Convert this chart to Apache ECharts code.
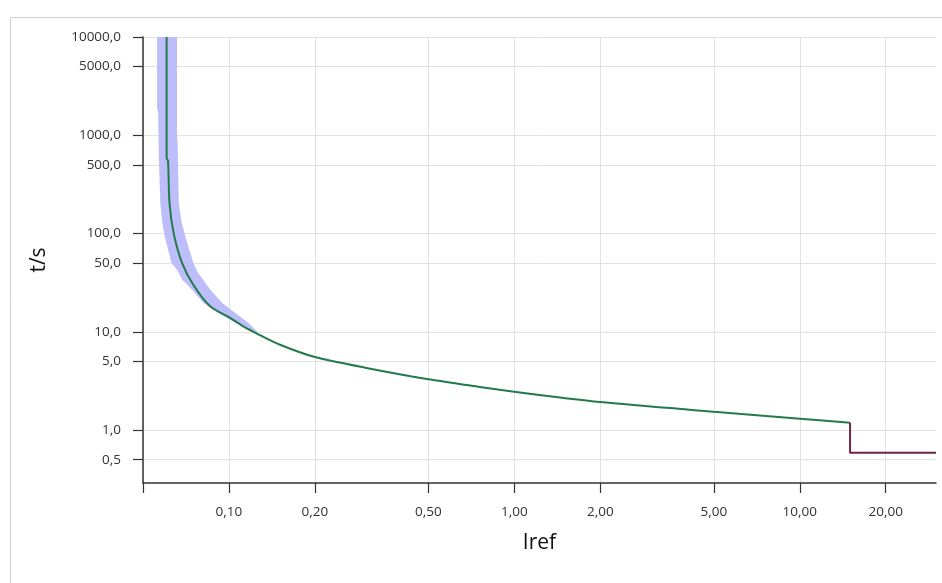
<!DOCTYPE html>
<html>
<head>
<meta charset="utf-8">
<title>Iref / t</title>
<script src="https://cdn.jsdelivr.net/npm/echarts@6/dist/echarts.min.js"></script>
<style>
  html, body { margin: 0; padding: 0; background: #fff; }
  #chart { width: 942px; height: 583px; }
</style>
</head>
<body>
<div id="chart"></div>
<script>
// main tripping curve (Iref, t/s)
const curveI = [0.0605, 0.0605, 0.0612, 0.0619, 0.0641, 0.0685, 0.0752, 0.0861, 0.1, 0.1126, 0.1288, 0.151, 0.2, 0.3, 0.5, 0.7, 1, 2, 5, 10, 15];
const curveT = [10000, 588, 548, 205, 99.3, 50.4, 29.8, 18.1, 14.1, 11.3, 9.23, 7.39, 5.54, 4.32, 3.29, 2.85, 2.46, 1.93, 1.54, 1.31, 1.19];

// instantaneous step
const stepI = [15, 15, 30];
const stepT = [1.19, 0.59, 0.59];

// tolerance band edges (top to bottom)
const bandLeftI = [0.0560, 0.0560, 0.0565, 0.0568, 0.0575, 0.0584, 0.0596, 0.0629, 0.0658, 0.0687, 0.0743, 0.0813, 0.0918, 0.1053, 0.1267];
const bandLeftT = [10000, 1894, 1725, 600, 205, 130, 92.6, 50.4, 42.8, 33.8, 26.8, 19.8, 15.6, 12.4, 9.8];
const bandRightI = [0.0658, 0.0658, 0.0661, 0.0664, 0.0667, 0.0683, 0.0704, 0.0750, 0.0775, 0.0861, 0.0946, 0.1053, 0.1169];
const bandRightT = [10000, 961, 875, 444, 205, 130, 92.6, 50.4, 40.8, 26.8, 19.8, 15.6, 12.4];

// axis ticks
const xTicks = [0.05, 0.1, 0.2, 0.5, 1, 2, 5, 10, 20];
const xLabels = [0.1, 0.2, 0.5, 1, 2, 5, 10, 20];
const yTicks = [0.5, 1, 5, 10, 50, 100, 500, 1000, 5000, 10000];

const zip = (a, b) => a.map((v, i) => [v, b[i]]);
const bandI = bandLeftI.concat(bandRightI.slice().reverse());
const bandT = bandLeftT.concat(bandRightT.slice().reverse());

const chart = echarts.init(document.getElementById('chart'));

const axisCol = '#333';
const labelCol = '#333';
const gridCol = '#e2e2e2';
const font = '"Open Sans", Roboto, sans-serif';

chart.setOption({
  animation: false,
  backgroundColor: '#fff',
  graphic: [{
    type: 'rect',
    left: 8,
    top: 15,
    shape: { width: 1000, height: 1000 },
    style: { fill: 'none', stroke: '#cfcfcf', lineWidth: 1 },
    silent: true,
  }],
  grid: {
    left: 143,
    right: 6,
    top: 37,
    bottom: 100,
  },
  xAxis: {
    type: 'log',
    min: 0.05,
    max: 30,
    name: 'Iref',
    nameLocation: 'middle',
    nameGap: 50,
    nameTextStyle: { color: '#111', fontSize: 21, fontFamily: font },
    axisLine: { lineStyle: { color: axisCol, width: 1.5 } },
    axisTick: {
      customValues: xTicks,
      length: 10,
      lineStyle: { color: axisCol, width: 1.2 },
    },
    axisLabel: {
      customValues: xLabels,
      margin: 22,
      color: labelCol,
      fontSize: 13.5,
      fontFamily: font,
      formatter: (v) => Number(v).toFixed(2).replace('.', ','),
    },
    splitLine: { show: true, lineStyle: { color: gridCol, width: 1 } },
  },
  yAxis: {
    type: 'log',
    min: 0.29,
    max: 10000,
    name: 't/s',
    nameLocation: 'middle',
    nameGap: 93,
    nameTextStyle: { color: '#111', fontSize: 21, fontWeight: 500, fontFamily: font },
    axisLine: { lineStyle: { color: axisCol, width: 1.5 } },
    axisTick: {
      customValues: yTicks,
      length: 10,
      lineStyle: { color: axisCol, width: 1.2 },
    },
    axisLabel: {
      customValues: yTicks,
      margin: 22,
      color: labelCol,
      fontSize: 13.5,
      fontFamily: font,
      formatter: (v) => Number(v).toFixed(1).replace('.', ','),
    },
    splitLine: { show: true, lineStyle: { color: gridCol, width: 1 } },
  },
  series: [
    {
      name: 'band',
      type: 'custom',
      z: 1,
      clip: true,
      data: zip(bandI, bandT),
      encode: { x: 0, y: 1 },
      renderItem(params, api) {
        if (params.dataIndex !== 0) return null;
        const pts = bandI.map((v, i) => api.coord([v, bandT[i]]));
        return {
          type: 'polygon',
          shape: { points: pts },
          style: { fill: '#bdbdfa', stroke: null },
        };
      },
    },
    {
      name: 'curve',
      type: 'line',
      z: 3,
      data: zip(curveI, curveT),
      showSymbol: false,
      smooth: 0.25,
      lineStyle: { color: '#237a4b', width: 2 },
    },
    {
      name: 'step',
      type: 'line',
      z: 3,
      data: zip(stepI, stepT),
      showSymbol: false,
      lineStyle: { color: '#6e2448', width: 2 },
    },
  ],
});
</script>
</body>
</html>
